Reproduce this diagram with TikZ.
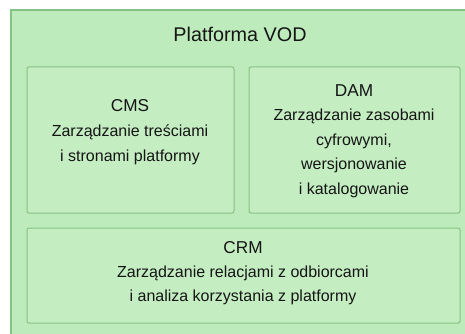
\documentclass[tikz,border=0pt]{standalone}
\usepackage{fontspec}
\setmainfont{Liberation Sans}
\definecolor{outerfill}{HTML}{BDEBBC}
\definecolor{innerfill}{HTML}{C4EDC1}
\definecolor{edge}{HTML}{85C283}
\definecolor{txt}{HTML}{151515}
\begin{document}
\begin{tikzpicture}[x=1pt,y=-1pt,
  outerbox/.style={draw=edge,line width=1.2pt,fill=outerfill},
  innerbox/.style={draw=edge,line width=1pt,fill=innerfill,rounded corners=2pt},
  title/.style={font=\fontsize{19.8}{23}\selectfont,text=txt},
  head/.style={font=\fontsize{17.2}{20}\selectfont,text=txt},
  body/.style={font=\fontsize{16}{24.7}\selectfont,text=txt,align=center}]
\useasboundingbox (0,0) rectangle (465,334);
\fill[white] (0,0) rectangle (465,334);
\draw[outerbox] (11,10) rectangle (468,338);
\node[title] (t) at (240,34) {Platforma VOD};
\draw[innerbox] (27,67) rectangle (234,213);
\draw[innerbox] (249,67) rectangle (460,213);
\draw[innerbox] (27,228) rectangle (460,323);
\node[head] (cms) at (130,106) {CMS};
\node[body] (cmsd) at (130,144.5) {Zarządzanie treściami\\i stronami platformy};
\node[head] (dam) at (354,91) {DAM};
\node[body] (damd) at (354,153.5) {Zarządzanie zasobami\\cyfrowymi,\\wersjonowanie\\i katalogowanie};
\node[head] (crm) at (243,248) {CRM};
\node[body] (crmd) at (243,285.5) {Zarządzanie relacjami z odbiorcami\\i analiza korzystania z platformy};
\end{tikzpicture}
\end{document}
